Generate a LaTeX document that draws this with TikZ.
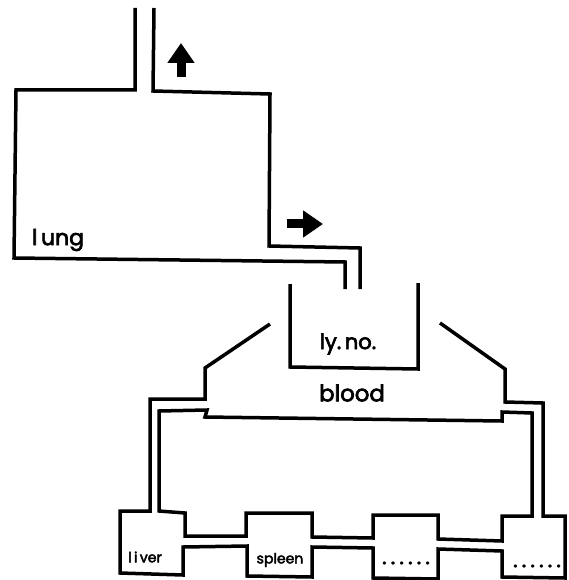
\documentclass[tikz,border=0pt]{standalone}
\usepackage{fontspec}
\setmainfont{Poppins}
\newfontfamily\labelfont[FakeBold=3]{Poppins}
\usetikzlibrary{arrows.meta}
\tikzset{
  wall/.style={line width=0.07cm, line join=miter, black},
  flowarrow/.style={line width=0.18cm, -{Triangle[length=0.4cm,width=0.52cm]}, black}
}
\begin{document}
\begin{tikzpicture}[x=0.02cm,y=-0.02cm,font=\labelfont]
    \useasboundingbox (0,0) rectangle (568,580);

    % lung
    \draw[wall] (135,8) -- (135,90) -- (16,90) -- (14,258) -- (345,262) -- (345,289);
    \draw[wall] (154,8) -- (153,91) -- (270,94) -- (269,246) -- (360,248) -- (360,289);
    \node[font=\labelfont\fontsize{12.5}{14}\selectfont] (lung) at (58,240) {l\,ung};

    % flow arrows
    \coordinate (upfrom) at (181,77);
    \coordinate (upto) at (181,43);
    \draw[flowarrow] (upfrom) -- (upto);
    \coordinate (rightfrom) at (287,224);
    \coordinate (rightto) at (323,224);
    \draw[flowarrow] (rightfrom) -- (rightto);

    % lymph node
    \draw[wall] (290,284) -- (290,367) -- (418,369) -- (418,283);
    \node[font=\labelfont\fontsize{12}{14}\selectfont] (lyno) at (348,344) {ly.\,no.};

    % blood, outer line
    \draw[wall] (270,324) -- (205,368) -- (205,399) -- (150,399) -- (150,511)
      -- (120,511) -- (120,573) -- (183,575) -- (183,547) -- (247,546)
      -- (247,576) -- (312,577) -- (312,547) -- (373,548) -- (373,578)
      -- (438,579) -- (438,549) -- (502,551) -- (502,577) -- (565,578)
      -- (565,516) -- (543,516) -- (543,403) -- (505,402) -- (505,369) -- (440,323);

    % blood, inner line
    \draw[wall] (207,410) -- (159,411) -- (159,511) -- (185,513) -- (185,536)
      -- (246,536) -- (246,513) -- (312,513) -- (312,537) -- (373,538)
      -- (373,515) -- (438,515) -- (438,539) -- (502,541) -- (502,516)
      -- (532,516) -- (532,413) -- (502,412) -- (502,421) -- (205,417) -- cycle;
    \node[font=\labelfont\fontsize{13}{15}\selectfont] (blood) at (352,393) {blood};

    % organs
    \node[font=\labelfont\footnotesize] (liver) at (145,557) {l\,i\,ver};
    \node[font=\labelfont\footnotesize] (spleen) at (280,560) {spleen};
    \node[font=\labelfont\bfseries\footnotesize] (organa) at (406,563) {.\,\,.\,\,.\,\,.\,\,.\,\,.};
    \node[font=\labelfont\bfseries\footnotesize] (organb) at (537,566) {.\,\,.\,\,.\,\,.\,\,.\,\,.};
  \end{tikzpicture}
\end{document}
